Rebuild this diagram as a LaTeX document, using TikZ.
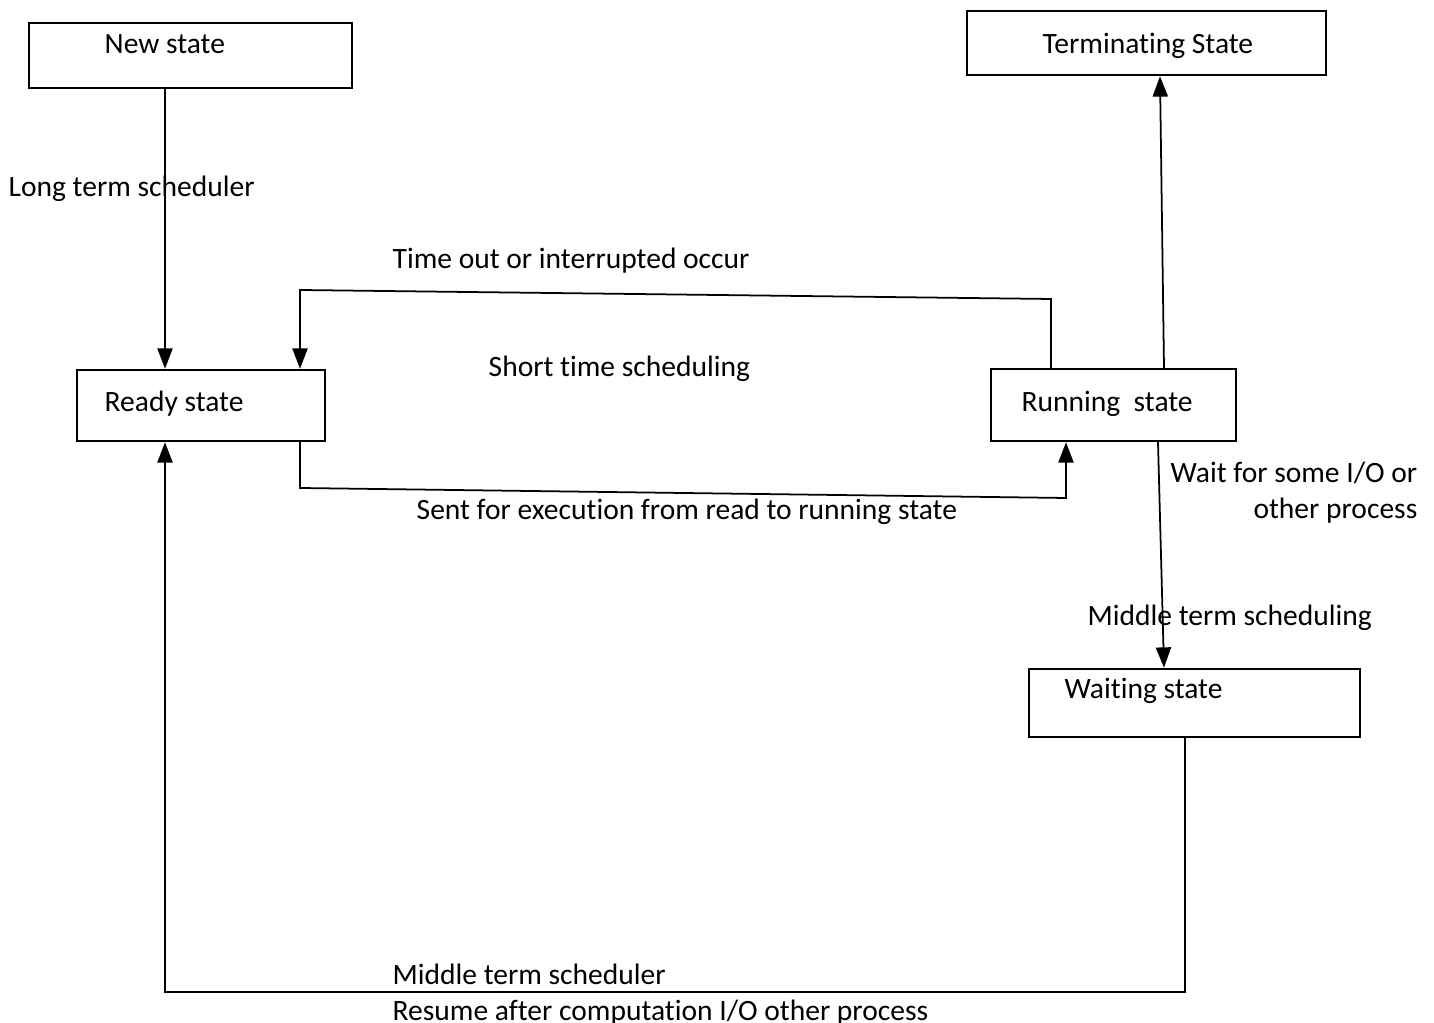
\documentclass[tikz,border=0pt]{standalone}
\usepackage{fontspec}
\setmainfont{Carlito}[Ligatures=NoCommon]
\usepackage{tkz-euclide}
\usetikzlibrary{calc,arrows.meta}

\begin{document}
\begin{tikzpicture}[
	box/.style={draw,line width=0.7pt,inner sep=0pt},
	txt/.style={inner sep=0pt,anchor=base west,font=\fontsize{8.4}{10}\selectfont},
	arr/.style={line width=0.5pt,-{Triangle[length=5.8pt,width=4.3pt]}}]
				\useasboundingbox (0,0) rectangle (14.34,-10.23);
				% states
				\node[box,minimum width=3.23cm,minimum height=0.65cm] (new) at (1.905,-0.555) {};
				\node[box,minimum width=3.59cm,minimum height=0.64cm] (term) at (11.465,-0.43) {};
				\node[box,minimum width=2.48cm,minimum height=0.71cm] (ready) at (2.01,-4.055) {};
				\node[box,minimum width=2.45cm,minimum height=0.72cm] (run) at (11.135,-4.05) {};
				\node[box,minimum width=3.31cm,minimum height=0.68cm] (wait) at (11.945,-7.03) {};
				\node[txt] (newtxt) at (1.04,-0.535) {New state};
				\node[txt] (termtxt) at (10.42,-0.535) {Terminating State};
				\node[txt] (readytxt) at (1.04,-4.115) {Ready state};
				\node[txt] (runtxt) at (10.21,-4.115) {Running\ \ state};
				\node[txt] (waittxt) at (10.64,-6.985) {Waiting state};
				% bends
				\tkzDefPoint(1.65,-9.92){W_2}
				\tkzDefPoint(11.85,-9.92){W_1}
				\tkzDefPoint(10.51,-2.99){T_1}
				\tkzDefPoint(3.00,-2.90){T_2}
				\tkzDefPoint(3.00,-4.88){S_1}
				\tkzDefPoint(10.66,-4.98){S_2}
				\tkzDefPoint(11.64,0){R_1}
				\tkzDefPoint(11.60,0){R_2}
				\tkzDefPoint(11.58,0){M_1}
				\tkzDefPoint(11.64,0){M_2}
				% transitions
				\draw[arr] (new.south -| W_2) -- (ready.north -| W_2);
				\draw[arr] (run.north -| T_1) -- (T_1) -- (T_2) -- (ready.north -| T_2);
				\draw[arr] (ready.south -| S_1) -- (S_1) -- (S_2) -- (run.south -| S_2);
				\draw[arr] (run.north -| R_1) -- (term.south -| R_2);
				\draw[arr] (run.south -| M_1) -- (wait.north -| M_2);
				\draw[arr] (wait.south -| W_1) -- (W_1) -- (W_2) -- (ready.south -| W_2);
				% labels
				\node[txt] (lts) at (0.08,-1.965) {Long term scheduler};
				\node[txt] (tout) at (3.92,-2.685) {Time out or interrupted occur};
				\node[txt] (sts) at (4.88,-3.765) {Short time scheduling};
				\node[txt] (sent) at (4.16,-5.195) {Sent for execution from read to running state};
				\node[txt,anchor=base east] (wio) at (14.18,-4.825) {Wait for some I/O or};
				\node[txt,anchor=base east] (oth) at (14.18,-5.185) {other process};
				\node[txt] (mts) at (10.87,-6.255) {Middle term scheduling};
				\node[txt] (mtr) at (3.92,-9.845) {Middle term scheduler};
				\node[txt] (res) at (3.92,-10.205) {Resume after computation I/O other process};
\end{tikzpicture}
\end{document}
